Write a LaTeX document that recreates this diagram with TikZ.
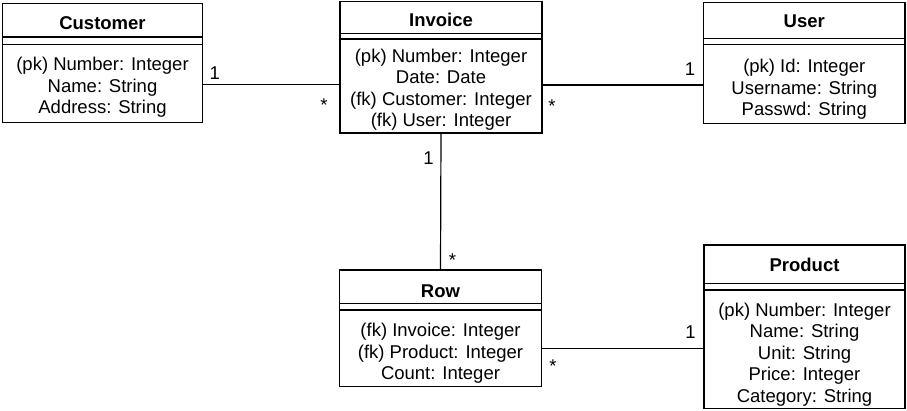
\documentclass[tikz,border=0pt]{standalone}
\usepackage{fontspec}
\setmainfont{Liberation Sans}
\tikzset{
	classbox/.style={draw, line width=1.5pt, inner sep=0pt, outer sep=0pt},
	classtitle/.style={font=\fontsize{18.5}{21.5}\selectfont\bfseries, inner sep=0pt},
	attrs/.style={align=center, inner sep=0pt},
	sepline/.style={line width=1.3pt},
	assoc/.style={line width=1.2pt},
	mult/.style={inner sep=0pt}
}
\begin{document}
\begin{tikzpicture}[x=1pt, y=-1pt, font=\fontsize{18.5}{21.5}\selectfont]
		\useasboundingbox (0,0) rectangle (907,410);
		
		%classes
		\node[classbox, minimum width=200pt, minimum height=119pt] (cust) at (102.5, 63) {};
		\node[classbox, minimum width=202pt, minimum height=131.5pt] (inv) at (441, 67.25) {};
		\node[classbox, minimum width=201.5pt, minimum height=120.6pt] (user) at (804.25, 63) {};
		\node[classbox, minimum width=202pt, minimum height=116.5pt] (row) at (440.5, 328.25) {};
		\node[classbox, minimum width=201pt, minimum height=163.5pt] (prod) at (804.5, 326.75) {};
		
		%header separators
		\draw[sepline] ([yshift=-33.5pt]cust.north west) -- ([yshift=-33.5pt]cust.north east);
		\draw[sepline] ([yshift=-40.8pt]cust.north west) -- ([yshift=-40.8pt]cust.north east);
		\draw[sepline] ([yshift=-31.8pt]inv.north west) -- ([yshift=-31.8pt]inv.north east);
		\draw[sepline] ([yshift=-37.5pt]inv.north west) -- ([yshift=-37.5pt]inv.north east);
		\draw[sepline] ([yshift=-35.6pt]user.north west) -- ([yshift=-35.6pt]user.north east);
		\draw[sepline] ([yshift=-41.6pt]user.north west) -- ([yshift=-41.6pt]user.north east);
		\draw[sepline] ([yshift=-33.3pt]row.north west) -- ([yshift=-33.3pt]row.north east);
		\draw[sepline] ([yshift=-40pt]row.north west) -- ([yshift=-40pt]row.north east);
		\draw[sepline] ([yshift=-38.3pt]prod.north west) -- ([yshift=-38.3pt]prod.north east);
		\draw[sepline] ([yshift=-45pt]prod.north west) -- ([yshift=-45pt]prod.north east);
		
		%titles
		\node[classtitle] (custtitle) at (102.5, 23.5) {Customer};
		\node[classtitle] (invtitle) at (441, 20) {Invoice};
		\node[classtitle] (usertitle) at (804.25, 21.7) {User};
		\node[classtitle] (rowtitle) at (440.5, 291) {Row};
		\node[classtitle] (prodtitle) at (804.5, 265) {Product};
		
		%attributes
		\node[attrs] (custattrs) at (102.5, 87.3) {(pk) Number: Integer\\Name: String\\Address: String};
		\node[attrs] (invattrs) at (441, 89.5) {(pk) Number: Integer\\Date: Date\\(fk) Customer: Integer\\(fk) User: Integer};
		\node[attrs] (userattrs) at (804.25, 89.5) {(pk) Id: Integer\\Username: String\\Passwd: String};
		\node[attrs] (rowattrs) at (440.5, 353.5) {(fk) Invoice: Integer\\(fk) Product: Integer\\Count: Integer};
		\node[attrs] (prodattrs) at (804.5, 354.5) {(pk) Number: Integer\\Name: String\\Unit: String\\Price: Integer\\Category: String};
		
		%associations
		\draw[assoc] ([yshift=-21.3pt]cust.east) -- ([yshift=-17.05pt]inv.west)
			node[mult, pos=0, xshift=12.2pt, yshift=11pt] {1}
			node[mult, pos=1, xshift=-16pt, yshift=-21.2pt] {*};
		\draw[assoc] ([yshift=-17.75pt]inv.east) -- ([yshift=-22pt]user.west)
			node[mult, pos=0, xshift=10pt, yshift=-20.7pt] {*}
			node[mult, pos=1, xshift=-13.5pt, yshift=16pt] {1};
		\draw[assoc] (inv.south) -- (row.north)
			node[mult, pos=0, xshift=-12.5pt, yshift=-25.3pt] {1}
			node[mult, pos=1, xshift=12pt, yshift=9.7pt] {*};
		\draw[assoc] ([yshift=-20pt]row.east) -- ([yshift=-21.5pt]prod.west)
			node[mult, pos=0, xshift=11.5pt, yshift=-18.2pt] {*}
			node[mult, pos=1, xshift=-13.5pt, yshift=15.8pt] {1};
	\end{tikzpicture}
\end{document}
